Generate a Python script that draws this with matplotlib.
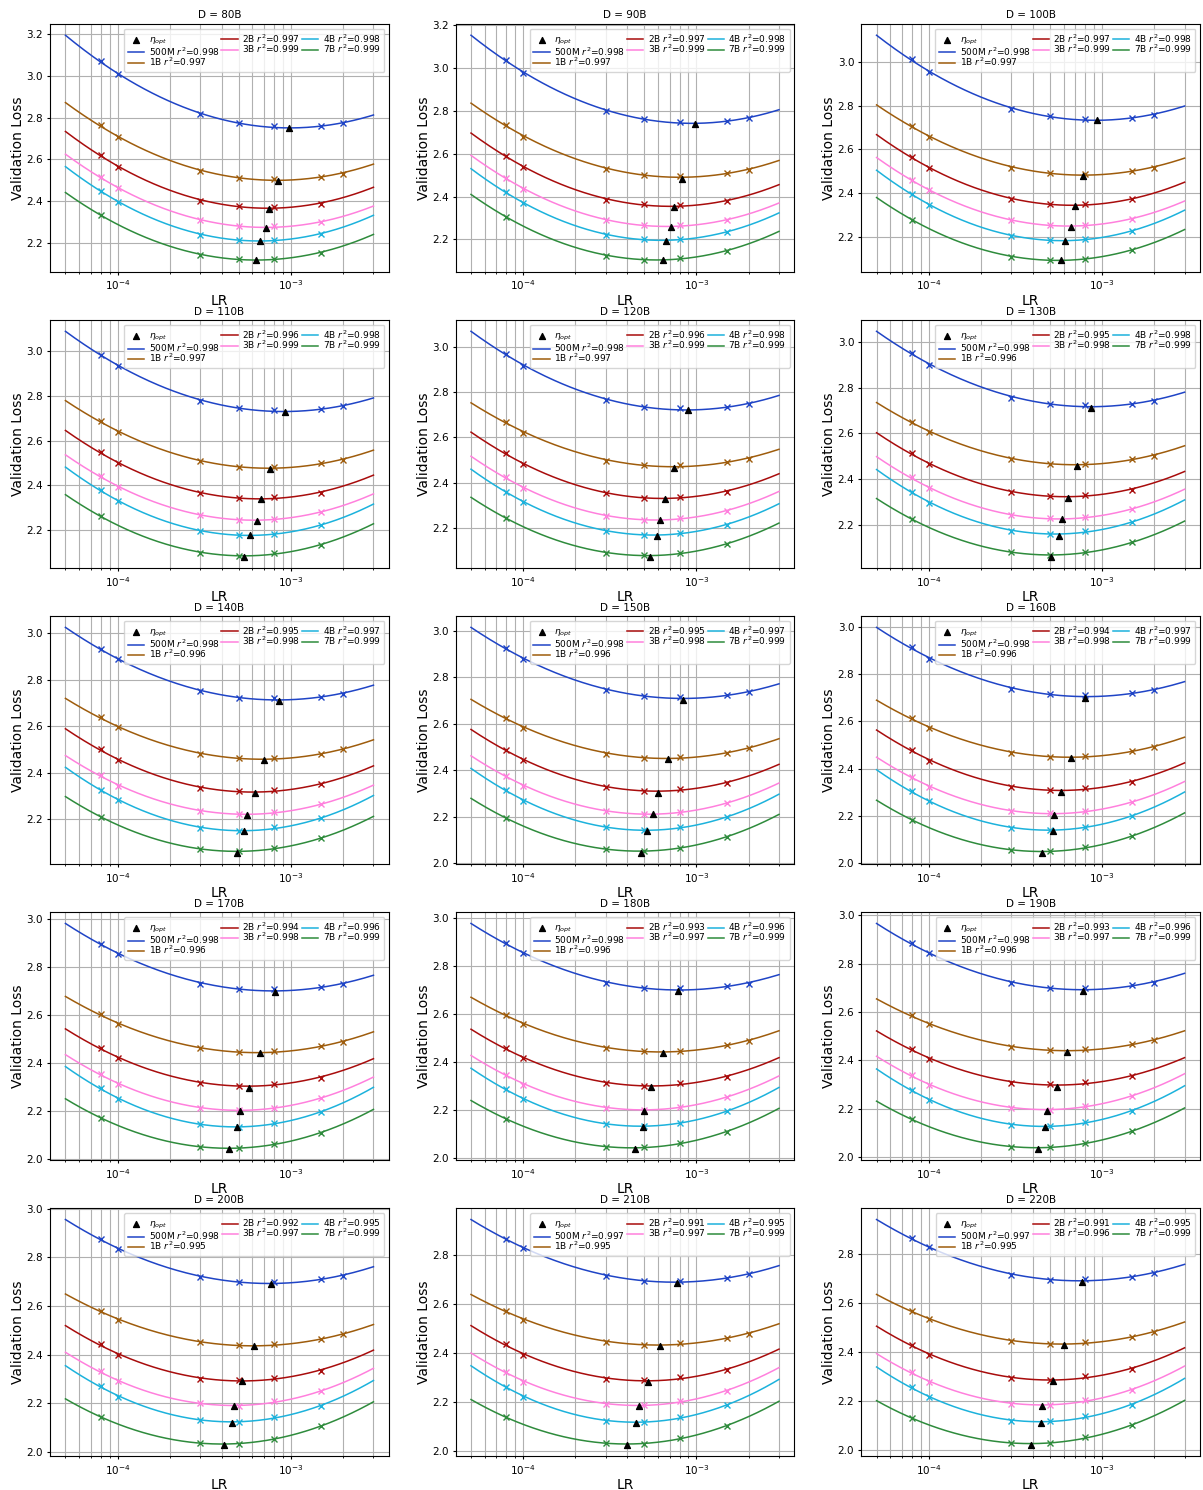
import numpy as np
import matplotlib
matplotlib.use("Agg")
import matplotlib.pyplot as plt

# data tokens (B) per panel
D_TOKENS = [80, 90, 100, 110, 120, 130, 140, 150, 160, 170, 180, 190, 200, 210, 220]

MODELS = ["500M", "1B", "2B", "3B", "4B", "7B"]
COLORS = ["#1f44c6", "#9e5c0c", "#a80c0c", "#ff80dd", "#1cb2dc", "#2e8b3c"]

LR_500M = [8e-5, 1e-4, 3e-4, 5e-4, 8e-4, 1.5e-3, 2e-3]
LR_1B = [8e-5, 1e-4, 3e-4, 5e-4, 8e-4, 1.5e-3, 2e-3]
LR_2B = [8e-5, 1e-4, 3e-4, 5e-4, 8e-4, 1.5e-3]
LR_3B = [8e-5, 1e-4, 3e-4, 5e-4, 8e-4, 1.5e-3]
LR_4B = [8e-5, 1e-4, 3e-4, 5e-4, 8e-4, 1.5e-3]
LR_7B = [8e-5, 3e-4, 5e-4, 8e-4, 1.5e-3]

LOSS_500M = [
    [3.072, 3.009, 2.818, 2.775, 2.759, 2.762, 2.773],
    [3.036, 2.977, 2.798, 2.762, 2.749, 2.752, 2.765],
    [3.011, 2.953, 2.783, 2.751, 2.740, 2.745, 2.757],
    [2.985, 2.936, 2.777, 2.747, 2.735, 2.741, 2.754],
    [2.968, 2.916, 2.765, 2.733, 2.728, 2.734, 2.746],
    [2.953, 2.902, 2.757, 2.729, 2.726, 2.730, 2.743],
    [2.934, 2.887, 2.750, 2.723, 2.721, 2.726, 2.740],
    [2.926, 2.877, 2.745, 2.718, 2.716, 2.722, 2.735],
    [2.913, 2.866, 2.738, 2.714, 2.712, 2.719, 2.732],
    [2.899, 2.857, 2.731, 2.709, 2.709, 2.717, 2.730],
    [2.893, 2.851, 2.726, 2.706, 2.706, 2.714, 2.725],
    [2.884, 2.843, 2.719, 2.699, 2.700, 2.710, 2.722],
    [2.876, 2.834, 2.718, 2.698, 2.699, 2.710, 2.724],
    [2.867, 2.830, 2.714, 2.695, 2.696, 2.707, 2.721],
    [2.863, 2.826, 2.713, 2.695, 2.696, 2.707, 2.721],
]
LOSS_1B = [
    [2.765, 2.706, 2.543, 2.513, 2.507, 2.518, 2.532],
    [2.734, 2.679, 2.528, 2.501, 2.496, 2.509, 2.524],
    [2.708, 2.656, 2.516, 2.490, 2.489, 2.502, 2.516],
    [2.687, 2.639, 2.506, 2.482, 2.482, 2.498, 2.513],
    [2.667, 2.621, 2.496, 2.477, 2.476, 2.490, 2.506],
    [2.652, 2.606, 2.487, 2.468, 2.468, 2.487, 2.503],
    [2.639, 2.595, 2.481, 2.463, 2.464, 2.481, 2.501],
    [2.626, 2.582, 2.472, 2.454, 2.457, 2.475, 2.494],
    [2.615, 2.571, 2.468, 2.451, 2.453, 2.475, 2.491],
    [2.604, 2.564, 2.462, 2.446, 2.449, 2.473, 2.488],
    [2.594, 2.557, 2.456, 2.442, 2.446, 2.469, 2.486],
    [2.586, 2.549, 2.455, 2.442, 2.446, 2.466, 2.483],
    [2.580, 2.544, 2.450, 2.438, 2.443, 2.465, 2.483],
    [2.572, 2.536, 2.445, 2.434, 2.439, 2.461, 2.479],
    [2.567, 2.533, 2.443, 2.432, 2.439, 2.462, 2.480],
]
LOSS_2B = [
    [2.622, 2.564, 2.401, 2.377, 2.372, 2.388],
    [2.590, 2.537, 2.384, 2.364, 2.361, 2.378],
    [2.566, 2.513, 2.371, 2.351, 2.351, 2.371],
    [2.548, 2.498, 2.363, 2.342, 2.348, 2.366],
    [2.529, 2.480, 2.352, 2.333, 2.338, 2.360],
    [2.513, 2.465, 2.341, 2.327, 2.331, 2.354],
    [2.501, 2.454, 2.336, 2.320, 2.325, 2.351],
    [2.489, 2.442, 2.327, 2.312, 2.320, 2.345],
    [2.480, 2.433, 2.322, 2.309, 2.319, 2.343],
    [2.464, 2.421, 2.316, 2.306, 2.315, 2.340],
    [2.456, 2.413, 2.310, 2.299, 2.311, 2.336],
    [2.447, 2.406, 2.307, 2.300, 2.309, 2.334],
    [2.443, 2.399, 2.301, 2.294, 2.305, 2.335],
    [2.435, 2.392, 2.293, 2.288, 2.300, 2.330],
    [2.429, 2.387, 2.291, 2.286, 2.300, 2.330],
]
LOSS_3B = [
    [2.515, 2.463, 2.309, 2.280, 2.279, 2.299],
    [2.486, 2.436, 2.290, 2.266, 2.266, 2.290],
    [2.461, 2.412, 2.275, 2.253, 2.255, 2.282],
    [2.440, 2.392, 2.266, 2.245, 2.249, 2.279],
    [2.423, 2.374, 2.254, 2.236, 2.242, 2.275],
    [2.407, 2.359, 2.242, 2.227, 2.233, 2.268],
    [2.389, 2.345, 2.237, 2.223, 2.230, 2.264],
    [2.377, 2.331, 2.225, 2.213, 2.220, 2.258],
    [2.365, 2.323, 2.221, 2.210, 2.219, 2.258],
    [2.354, 2.313, 2.214, 2.204, 2.214, 2.254],
    [2.346, 2.304, 2.208, 2.200, 2.211, 2.251],
    [2.338, 2.297, 2.204, 2.196, 2.211, 2.252],
    [2.331, 2.291, 2.200, 2.190, 2.208, 2.250],
    [2.322, 2.282, 2.192, 2.185, 2.202, 2.245],
    [2.316, 2.276, 2.188, 2.184, 2.201, 2.245],
]
LOSS_4B = [
    [2.450, 2.397, 2.239, 2.214, 2.214, 2.243],
    [2.420, 2.370, 2.219, 2.202, 2.203, 2.233],
    [2.397, 2.345, 2.205, 2.186, 2.189, 2.227],
    [2.377, 2.329, 2.195, 2.177, 2.182, 2.221],
    [2.360, 2.313, 2.186, 2.170, 2.176, 2.214],
    [2.344, 2.297, 2.173, 2.160, 2.171, 2.210],
    [2.328, 2.284, 2.164, 2.151, 2.165, 2.204],
    [2.314, 2.270, 2.154, 2.143, 2.155, 2.198],
    [2.303, 2.261, 2.148, 2.141, 2.154, 2.199],
    [2.295, 2.252, 2.144, 2.133, 2.151, 2.196],
    [2.285, 2.243, 2.139, 2.132, 2.146, 2.192],
    [2.278, 2.235, 2.133, 2.128, 2.144, 2.191],
    [2.271, 2.228, 2.131, 2.124, 2.144, 2.190],
    [2.262, 2.221, 2.121, 2.118, 2.137, 2.185],
    [2.255, 2.214, 2.117, 2.117, 2.136, 2.184],
]
LOSS_7B = [
    [2.333, 2.141, 2.121, 2.124, 2.153],
    [2.305, 2.125, 2.106, 2.112, 2.147],
    [2.279, 2.108, 2.095, 2.101, 2.140],
    [2.260, 2.098, 2.083, 2.094, 2.133],
    [2.242, 2.090, 2.078, 2.087, 2.129],
    [2.224, 2.079, 2.066, 2.079, 2.122],
    [2.211, 2.072, 2.062, 2.076, 2.119],
    [2.194, 2.060, 2.053, 2.067, 2.114],
    [2.183, 2.055, 2.049, 2.066, 2.114],
    [2.172, 2.049, 2.046, 2.063, 2.110],
    [2.161, 2.044, 2.042, 2.060, 2.108],
    [2.155, 2.043, 2.039, 2.056, 2.107],
    [2.144, 2.038, 2.034, 2.053, 2.108],
    [2.136, 2.030, 2.028, 2.051, 2.102],
    [2.129, 2.027, 2.026, 2.050, 2.101],
]

# eta_opt markers (lr, loss) per model, one per panel
OPT_LR_500M = [0.98e-3, 0.98e-3, 0.94e-3, 0.92e-3, 0.89e-3, 0.87e-3, 0.85e-3, 0.84e-3,
               0.80e-3, 0.81e-3, 0.78e-3, 0.78e-3, 0.77e-3, 0.775e-3, 0.765e-3]
OPT_LOSS_500M = [2.749, 2.740, 2.733, 2.726, 2.721, 2.713, 2.707, 2.703,
                 2.698, 2.697, 2.693, 2.689, 2.689, 2.685, 2.684]
OPT_LR_1B = [0.838e-3, 0.83e-3, 0.78e-3, 0.76e-3, 0.74e-3, 0.72e-3, 0.70e-3, 0.69e-3,
             0.66e-3, 0.66e-3, 0.64e-3, 0.63e-3, 0.61e-3, 0.614e-3, 0.60e-3]
OPT_LOSS_1B = [2.497, 2.482, 2.478, 2.471, 2.464, 2.458, 2.457, 2.449,
               2.446, 2.442, 2.436, 2.435, 2.435, 2.428, 2.428]
OPT_LR_2B = [0.75e-3, 0.74e-3, 0.70e-3, 0.67e-3, 0.66e-3, 0.64e-3, 0.62e-3, 0.60e-3,
             0.58e-3, 0.57e-3, 0.55e-3, 0.55e-3, 0.526e-3, 0.526e-3, 0.52e-3]
OPT_LOSS_2B = [2.362, 2.351, 2.342, 2.336, 2.327, 2.318, 2.313, 2.304,
               2.302, 2.298, 2.293, 2.290, 2.290, 2.282, 2.279]
OPT_LR_3B = [0.717e-3, 0.71e-3, 0.66e-3, 0.64e-3, 0.62e-3, 0.59e-3, 0.56e-3, 0.56e-3,
             0.53e-3, 0.51e-3, 0.50e-3, 0.48e-3, 0.467e-3, 0.465e-3, 0.453e-3]
OPT_LOSS_3B = [2.272, 2.256, 2.247, 2.239, 2.233, 2.223, 2.220, 2.210,
               2.205, 2.200, 2.194, 2.190, 2.190, 2.183, 2.180]
OPT_LR_4B = [0.662e-3, 0.67e-3, 0.61e-3, 0.58e-3, 0.59e-3, 0.565e-3, 0.54e-3, 0.52e-3,
             0.52e-3, 0.49e-3, 0.49e-3, 0.47e-3, 0.456e-3, 0.45e-3, 0.445e-3]
OPT_LOSS_4B = [2.210, 2.194, 2.182, 2.175, 2.166, 2.152, 2.148, 2.138,
               2.137, 2.134, 2.128, 2.124, 2.120, 2.113, 2.110]
OPT_LR_7B = [0.63e-3, 0.64e-3, 0.58e-3, 0.54e-3, 0.54e-3, 0.51e-3, 0.49e-3, 0.48e-3,
             0.45e-3, 0.44e-3, 0.44e-3, 0.43e-3, 0.41e-3, 0.40e-3, 0.39e-3]
OPT_LOSS_7B = [2.115, 2.102, 2.092, 2.080, 2.073, 2.060, 2.057, 2.046,
               2.044, 2.043, 2.037, 2.034, 2.030, 2.024, 2.020]

R2_500M = [0.998] * 13 + [0.997, 0.997]
R2_1B = [0.997] * 5 + [0.996] * 7 + [0.995] * 3
R2_2B = [0.997, 0.997, 0.997, 0.996, 0.996, 0.995, 0.995, 0.995, 0.994, 0.994,
         0.993, 0.993, 0.992, 0.991, 0.991]
R2_3B = [0.999] * 5 + [0.998] * 5 + [0.997] * 4 + [0.996]
R2_4B = [0.998] * 6 + [0.997] * 3 + [0.996] * 3 + [0.995] * 3
R2_7B = [0.999] * 15

LRS = [LR_500M, LR_1B, LR_2B, LR_3B, LR_4B, LR_7B]
LOSSES = [LOSS_500M, LOSS_1B, LOSS_2B, LOSS_3B, LOSS_4B, LOSS_7B]
OPT_LRS = [OPT_LR_500M, OPT_LR_1B, OPT_LR_2B, OPT_LR_3B, OPT_LR_4B, OPT_LR_7B]
OPT_LOSSES = [OPT_LOSS_500M, OPT_LOSS_1B, OPT_LOSS_2B, OPT_LOSS_3B, OPT_LOSS_4B, OPT_LOSS_7B]
R2S = [R2_500M, R2_1B, R2_2B, R2_3B, R2_4B, R2_7B]

LR_MIN, LR_MAX = 5e-5, 3e-3

fig, axes = plt.subplots(5, 3, figsize=(12.03, 14.9), dpi=100)
fig.subplots_adjust(left=0.0416, right=0.9975, top=0.9839, bottom=0.0228,
                    wspace=0.197, hspace=0.195)

xs = np.logspace(np.log10(LR_MIN), np.log10(LR_MAX), 200)

for i, d in enumerate(D_TOKENS):
    ax = axes.flat[i]
    handles = []
    tri = ax.scatter([OPT_LRS[m][i] for m in range(6)],
                     [OPT_LOSSES[m][i] for m in range(6)],
                     marker="^", color="black", s=18, zorder=4, label=r"$\eta_{opt}$")
    handles.append(tri)
    for m, name in enumerate(MODELS):
        lr = np.array(LRS[m])
        loss = np.array(LOSSES[m][i])
        # quadratic fit in log(lr)
        coef = np.polyfit(np.log10(lr), loss, 2)
        ys = np.polyval(coef, np.log10(xs))
        line, = ax.plot(xs, ys, color=COLORS[m], lw=1.1,
                        label=f"{name} $r^2$={R2S[m][i]:.3f}")
        ax.plot(lr, loss, "x", color=COLORS[m], ms=5, mew=1.0, zorder=3)
        handles.append(line)
    ax.set_xscale("log")
    ax.grid(True, which="both", color="#b0b0b0", lw=0.8)
    ax.set_title(f"D = {d}B", fontsize=7.5, pad=4)
    ax.set_xlabel("LR", fontsize=10, labelpad=1)
    ax.set_ylabel("Validation Loss", fontsize=10, labelpad=1)
    ax.tick_params(labelsize=7.5, length=2.5, pad=2.5)
    ax.tick_params(which="minor", length=1.5)
    ax.legend(handles=handles, loc="upper right", ncol=3, fontsize=6.5,
              columnspacing=0.2, labelspacing=-0.2, handletextpad=0.5,
              handlelength=1.8, borderpad=0.4)

fig.savefig("out.png", dpi=100)
